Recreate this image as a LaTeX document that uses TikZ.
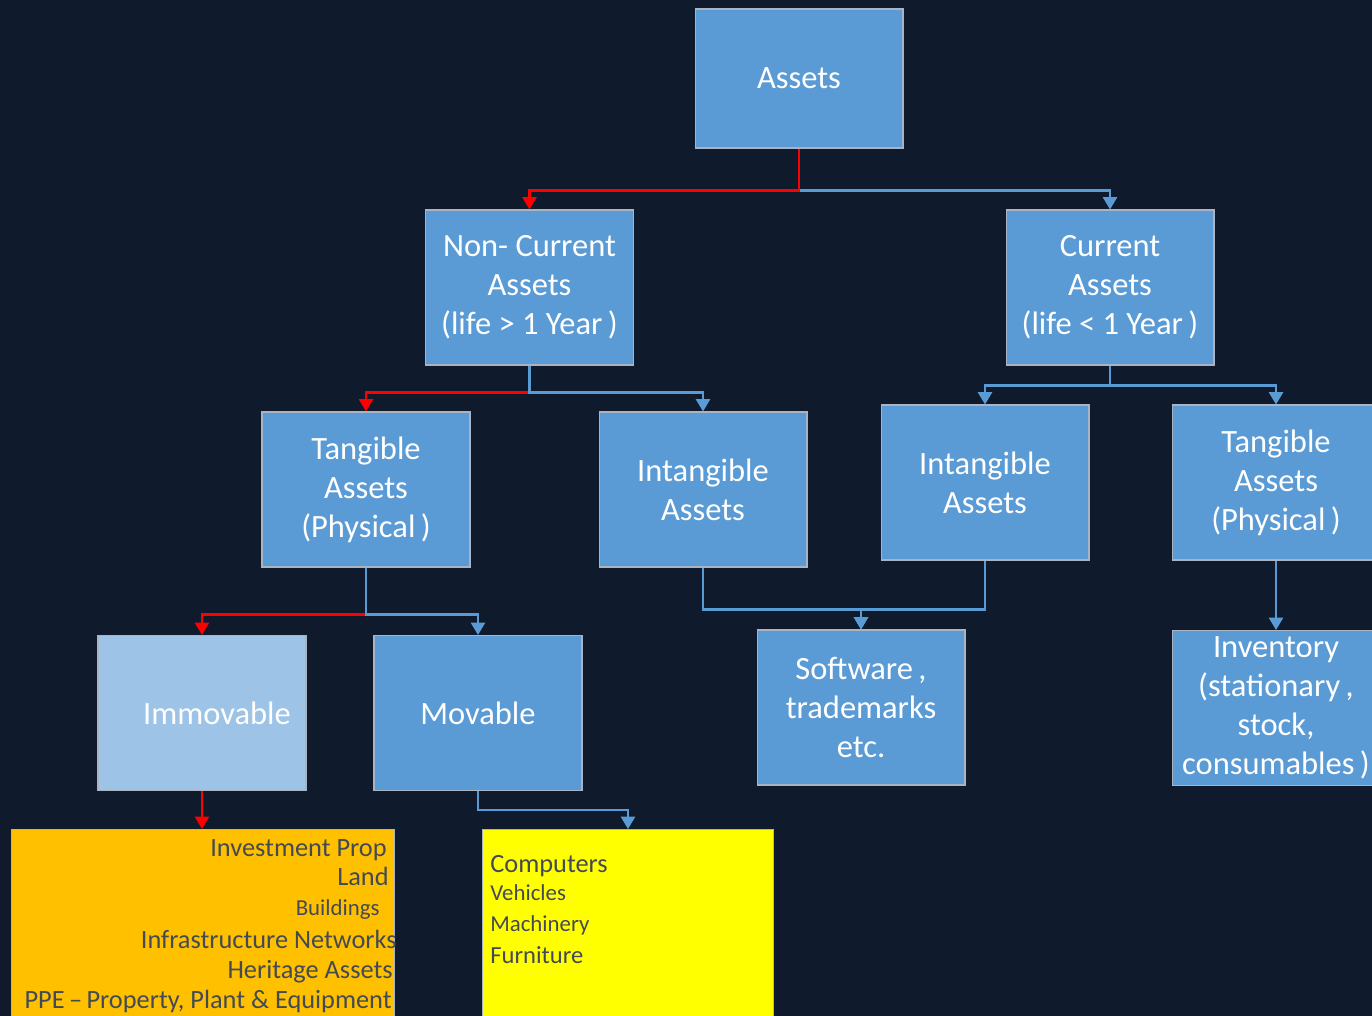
\documentclass[tikz,border=0pt]{standalone}
\usepackage{fontspec}
\setmainfont{Carlito}
\usetikzlibrary{arrows.meta}
\definecolor{bgnavy}{HTML}{0F1B2D}
\definecolor{boxblue}{HTML}{5B9BD5}
\definecolor{paleblue}{HTML}{9DC3E6}
\definecolor{amber}{HTML}{FFC000}
\definecolor{lemon}{HTML}{FFFF00}
\definecolor{edgegray}{HTML}{A9B3C2}
\definecolor{textgray}{HTML}{434A56}

\begin{document}
\begin{tikzpicture}[x=0.02cm, y=-0.02cm]
  \tikzstyle{component} = [rectangle, draw=edgegray, line width=0.6pt, fill=boxblue, text=white,
                                    align=center, minimum width=4.16cm, minimum height=3.1cm,
                                    font=\fontsize{18.5}{22.2}\selectfont]
  \tikzstyle{bluelink} = [draw=boxblue, line width=1.2pt, -{Triangle[width=8pt,length=7pt]}]
  \tikzstyle{redlink} = [draw=red, line width=1.2pt, -{Triangle[width=8pt,length=7pt]}]
  \tikzstyle{listbox} = [rectangle, draw=edgegray, line width=0.6pt, anchor=north west, minimum height=4cm]
  \tikzstyle{item} = [inner sep=0pt, text=textgray]

\clip (0,0) rectangle (1372,1016);
\fill[bgnavy] (0,0) rectangle (1372,1016);

\node[component, minimum height=2.78cm] (assets) at (799,78.5) {Assets};
\node[component] (noncur) at (529.5,287.5) {Non- Current\\Assets\\(life > 1 Year\,)};
\node[component] (cur) at (1110,287.5) {Current\\Assets\\(life < 1 Year\,)};
\node[component] (tangL) at (366,489.5) {Tangible\\Assets\\(Physical\,)};
\node[component] (intangL) at (703,489.5) {Intangible\\Assets};
\node[component] (intangR) at (985,482.5) {Intangible\\Assets};
\node[component] (tangR) at (1276,482.5) {Tangible\\Assets\\(Physical\,)};
\node[component, fill=paleblue] (immov) at (202,713) {\hspace{0.6cm}Immovable};
\node[component] (mov) at (478,713) {Movable};
\node[component] (soft) at (861,707.5) {Software\,,\\trademarks\\etc.};
\node[component] (inv) at (1276,708) {Inventory\\(stationary\,,\\stock,\\consumables\,)};
\node[listbox, fill=amber, minimum width=7.66cm] (immovlist) at (11,829) {};
\node[listbox, fill=lemon, minimum width=5.82cm] (movlist) at (482,829) {};

% immovable items
\node[item, anchor=base east, font=\fontsize{15}{18}\selectfont] (invprop) at (387,856) {Investment Prop};
\node[item, anchor=base east, font=\fontsize{15}{18}\selectfont] (land) at (389,885) {Land};
\node[item, anchor=base east, font=\fontsize{13}{16}\selectfont] (build) at (380,915) {Buildings};
\node[item, anchor=base east, font=\fontsize{15}{18}\selectfont] (infra) at (397,948) {Infrastructure Networks};
\node[item, anchor=base east, font=\fontsize{15}{18}\selectfont] (herit) at (393,978) {Heritage Assets};
\node[item, anchor=base east, font=\fontsize{15}{18}\selectfont] (ppe) at (392,1008) {PPE\,--\,Property, Plant \& Equipment};

% movable items
\node[item, anchor=base west, font=\fontsize{15}{18}\selectfont] (comp) at (490,872) {Computers};
\node[item, anchor=base west, font=\fontsize{13}{16}\selectfont] (vehic) at (490,900) {Vehicles};
\node[item, anchor=base west, font=\fontsize{13}{16}\selectfont] (mach) at (490,931) {Machinery};
\node[item, anchor=base west, font=\fontsize{14}{17}\selectfont] (furn) at (490,963) {Furniture};

\draw[bluelink] (assets.south) -- ++(0,42) -| (cur.north);
\draw[redlink] (assets.south) -- ++(0,42) -| (noncur.north);
\draw[redlink] (noncur.south) -- ++(0,27) -| (tangL.north);
\draw[bluelink] (noncur.south) -- ++(0,27) -| (intangL.north);
\draw[bluelink] (cur.south) -- ++(0,20) -| (intangR.north);
\draw[bluelink] (cur.south) -- ++(0,20) -| (tangR.north);
\draw[redlink] (tangL.south) -- ++(0,47) -| (immov.north);
\draw[bluelink] (tangL.south) -- ++(0,47) -| (mov.north);
\draw[bluelink] (intangL.south) -- ++(0,42) -| (soft.north);
\draw[bluelink] (intangR.south) -- ++(0,49) -| (soft.north);
\draw[bluelink] (tangR.south) -- (inv.north);
\draw[redlink] (immov.south) -- (immov.south |- immovlist.north);
\draw[bluelink] (mov.south) -- ++(0,19) -| (movlist.north);
\end{tikzpicture}
\end{document}
